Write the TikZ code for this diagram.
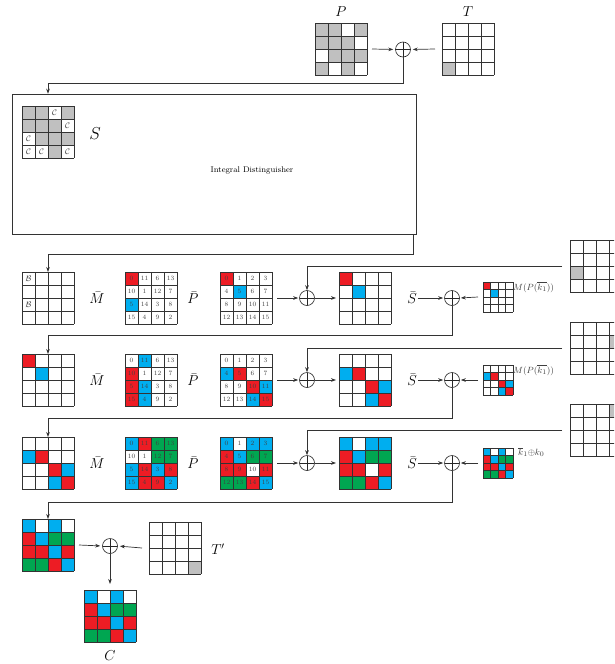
\documentclass[tikz,border=0pt]{standalone}
\usetikzlibrary{arrows.meta}
\definecolor{cr}{HTML}{ED1C24}
\definecolor{cb}{HTML}{00AEEF}
\definecolor{cg}{HTML}{00A651}
\definecolor{ck}{HTML}{C0C0C0}
\colorlet{cw}{white}
\tikzset{
  gridbox/.style={inner sep=0pt, outer sep=0pt, draw=none},
  gridline/.style={draw=black!80, line width=0.7pt},
  numtxt/.style={inner sep=0pt, font=\fontsize{6.5}{7}\selectfont, text=black!75},
  caltxt/.style={inner sep=0pt, font=\fontsize{8}{9}\selectfont, text=black!80},
  lbl/.style={inner sep=1pt, font=\fontsize{14}{16}\selectfont},
  smlbl/.style={inner sep=0pt, font=\fontsize{9.5}{10}\selectfont, text=black!75},
  xorn/.style={circle, draw=black!85, line width=0.6pt, minimum size=15pt, inner sep=0pt,
    path picture={\draw[line width=0.6pt,black!85] (path picture bounding box.north) -- (path picture bounding box.south)
      (path picture bounding box.west) -- (path picture bounding box.east);}},
  arr/.style={-{Stealth[length=5pt,width=3.6pt]}, line width=0.7pt, draw=black!80},
}
% name, x left, y top, cell, colours
\newcommand\cgrid[5]{%
  \node[gridbox, minimum size={4*#4}] (#1) at ({#2+2*#4},{#3+2*#4}) {};
  \foreach \cc [count=\ii from 0] in {#5} {
    \pgfmathtruncatemacro\gr{\ii/4}
    \pgfmathtruncatemacro\gc{mod(\ii,4)}
    \fill[\cc] ({#2+\gc*#4},{#3+\gr*#4}) rectangle ++(#4,#4);
  }
  \foreach \kk in {0,...,4} {
    \draw[gridline] ({#2+\kk*#4},#3) -- ++(0,{4*#4});
    \draw[gridline] (#2,{#3+\kk*#4}) -- ++({4*#4},0);
  }
}
% name, x left, y top, colour/number list (cell 13)
\newcommand\ntable[4]{%
  \node[gridbox, minimum size=52] (#1) at ({#2+26},{#3+26}) {};
  \foreach \cc/\nn [count=\ii from 0] in {#4} {
    \pgfmathtruncatemacro\gr{\ii/4}
    \pgfmathtruncatemacro\gc{mod(\ii,4)}
    \fill[\cc] ({#2+\gc*13},{#3+\gr*13}) rectangle ++(13,13);
    \node[numtxt] at ({#2+\gc*13+6.5},{#3+\gr*13+6.5}) {\nn};
  }
  \foreach \kk in {0,...,4} {
    \draw[gridline] ({#2+\kk*13},#3) -- ++(0,52);
    \draw[gridline] (#2,{#3+\kk*13}) -- ++(52,0);
  }
}
\begin{document}
\begin{tikzpicture}[x=1pt,y=-1pt]
\useasboundingbox (0,0) rectangle (614,664);
\fill[white] (0,0) rectangle (614,664);
\clip (0,0) rectangle (614,664);

% ---------- top ----------
\cgrid{P}{315}{23}{13}{ck,ck,cw,ck, ck,ck,ck,cw, cw,ck,ck,ck, ck,cw,ck,cw}
\cgrid{T}{442}{23}{13}{cw,cw,cw,cw, cw,cw,cw,cw, cw,cw,cw,cw, ck,cw,cw,cw}
\node[lbl] (Plbl) at (341,12) {$P$};
\node[lbl] (Tlbl) at (468,12) {$T$};
\node[xorn] (x0) at (403,49.5) {};
\draw[arr, shorten >=2pt] ([xshift=5]P.east) -- (x0.west);
\draw[arr, shorten >=2pt] ([xshift=-7]T.west) -- (x0.east);

% ---------- S box ----------
\node[draw=black!80, line width=0.6pt, minimum width=404, minimum height=140, inner sep=0pt] (Sbox) at (214,164) {};
\coordinate (d0) at (48,83);
\draw[arr] (x0.south) |- (d0) -- (Sbox.north -| d0);
\cgrid{Sg}{22}{106}{13}{ck,ck,cw,ck, ck,ck,ck,cw, cw,ck,ck,ck, cw,cw,ck,cw}
\foreach \px/\py in {54.5/112.5, 67.5/125.5, 28.5/138.5, 28.5/151.5, 41.5/151.5, 67.5/151.5}
  \node[caltxt] at (\px,\py) {$\mathcal{C}$};
\node[lbl, font=\fontsize{16}{18}\selectfont] (Slbl) at (95,134) {$S$};
\node[inner sep=0pt, font=\fontsize{8.2}{9}\selectfont] (IDlbl) at (252,170) {Integral Distinguisher};

\coordinate (d00) at (48,254);
\draw[arr] ([xshift=-3]Sbox.south east) |- (d00) -- (48,272);

% ---------- row 1 ----------
\cgrid{A1}{22}{272}{13}{cw,cw,cw,cw, cw,cw,cw,cw, cw,cw,cw,cw, cw,cw,cw,cw}
\node[caltxt] at (28.5,278.5) {$\mathcal{B}$};
\node[caltxt] at (28.5,304.5) {$\mathcal{B}$};
\node[lbl] (Mb1) at (97,298) {$\bar{M}$};
\ntable{M1}{125}{272}{cr/0,cw/11,cw/6,cw/13, cw/10,cw/1,cw/12,cw/7, cb/5,cw/14,cw/3,cw/8, cw/15,cw/4,cw/9,cw/2}
\node[lbl] (Pb1) at (193,298) {$\bar{P}$};
\ntable{P1}{220}{272}{cr/0,cw/1,cw/2,cw/3, cw/4,cb/5,cw/6,cw/7, cw/8,cw/9,cw/10,cw/11, cw/12,cw/13,cw/14,cw/15}
\node[xorn] (x1a) at (307,298) {};
\cgrid{S1}{339}{272}{13}{cr,cw,cw,cw, cw,cb,cw,cw, cw,cw,cw,cw, cw,cw,cw,cw}
\node[lbl] (Sb1) at (412,298) {$\bar{S}$};
\node[xorn] (x1b) at (452,298) {};
\cgrid{K1}{483}{282}{7.5}{cr,cw,cw,cw, cw,cb,cw,cw, cw,cw,cw,cw, cw,cw,cw,cw}
\node[smlbl, anchor=west] (K1lbl) at (513,287) {$M(P(\overline{k_1}))$};
\cgrid{R1}{570}{240}{13}{cw,cw,cw,cw, cw,cw,cw,cw, ck,cw,cw,cw, cw,cw,cw,cw}
\draw[arr, shorten >=1pt] ([xshift=5]P1.east) -- (x1a.west);
\draw[arr] (x1a.east) -- ([xshift=-3]S1.west);
\draw[arr, shorten >=1pt] (Sb1.east) -- (x1b.west);
\draw[arr, shorten >=1pt] ([xshift=-5]K1.west) -- (x1b.east);
\draw[arr] ([xshift=-8]R1.west) -| (x1a.north);
\coordinate (d1) at (48,335);
\draw[arr] (x1b.south) |- (d1) -- (48,354);

% ---------- row 2 ----------
\cgrid{A2}{22}{354}{13}{cr,cw,cw,cw, cw,cb,cw,cw, cw,cw,cw,cw, cw,cw,cw,cw}
\node[lbl] (Mb2) at (97,380) {$\bar{M}$};
\ntable{M2}{125}{354}{cw/0,cb/11,cw/6,cw/13, cr/10,cw/1,cw/12,cw/7, cr/5,cb/14,cw/3,cw/8, cr/15,cb/4,cw/9,cw/2}
\node[lbl] (Pb2) at (193,380) {$\bar{P}$};
\ntable{P2}{220}{354}{cw/0,cw/1,cw/2,cw/3, cb/4,cr/5,cw/6,cw/7, cw/8,cw/9,cr/10,cb/11, cw/12,cw/13,cb/14,cr/15}
\node[xorn] (x2a) at (307,380) {};
\cgrid{S2}{339}{354}{13}{cw,cw,cw,cw, cb,cr,cw,cw, cw,cw,cr,cb, cw,cw,cb,cr}
\node[lbl] (Sb2) at (412,380) {$\bar{S}$};
\node[xorn] (x2b) at (452,380) {};
\cgrid{K2}{483}{365}{7.5}{cw,cw,cw,cw, cb,cr,cw,cw, cw,cw,cr,cb, cw,cw,cb,cr}
\node[smlbl, anchor=west] (K2lbl) at (513,370) {$M(P(\overline{k_1}))$};
\cgrid{R2}{570}{322}{13}{cw,cw,cw,cw, cw,cw,cw,ck, cw,cw,cw,cw, cw,cw,cw,cw}
\draw[arr, shorten >=1pt] ([xshift=5]P2.east) -- (x2a.west);
\draw[arr] (x2a.east) -- ([xshift=-3]S2.west);
\draw[arr, shorten >=1pt] (Sb2.east) -- (x2b.west);
\draw[arr, shorten >=1pt] ([xshift=-5]K2.west) -- (x2b.east);
\draw[arr] ([xshift=-8]R2.west) -| (x2a.north);
\coordinate (d2) at (48,418);
\draw[arr] (x2b.south) |- (d2) -- (48,437);

% ---------- row 3 ----------
\cgrid{A3}{22}{437}{13}{cw,cw,cw,cw, cb,cr,cw,cw, cw,cw,cr,cb, cw,cw,cb,cr}
\node[lbl] (Mb3) at (97,463) {$\bar{M}$};
\ntable{M3}{125}{437}{cb/0,cr/11,cg/6,cg/13, cw/10,cw/1,cg/12,cg/7, cb/5,cr/14,cb/3,cr/8, cb/15,cr/4,cr/9,cb/2}
\node[lbl] (Pb3) at (193,463) {$\bar{P}$};
\ntable{P3}{220}{437}{cb/0,cw/1,cb/2,cb/3, cr/4,cb/5,cg/6,cg/7, cr/8,cr/9,cw/10,cr/11, cg/12,cg/13,cr/14,cb/15}
\node[xorn] (x3a) at (307,463) {};
\cgrid{S3}{339}{437}{13}{cb,cw,cb,cb, cr,cb,cg,cg, cr,cr,cw,cr, cg,cg,cr,cb}
\node[lbl] (Sb3) at (412,463) {$\bar{S}$};
\node[xorn] (x3b) at (452,463) {};
\cgrid{K3}{483}{448}{7.5}{cb,cw,cb,cw, cr,cb,cg,cg, cr,cr,cb,cr, cg,cg,cr,cb}
\node[smlbl, anchor=west] (K3lbl) at (518,452) {$\overline{k}_1{\oplus}k_0$};
\cgrid{R3}{570}{404}{13}{cw,cw,cw,ck, cw,cw,cw,cw, cw,cw,cw,cw, cw,cw,cw,cw}
\draw[arr, shorten >=1pt] ([xshift=5]P3.east) -- (x3a.west);
\draw[arr] (x3a.east) -- ([xshift=-3]S3.west);
\draw[arr, shorten >=1pt] (Sb3.east) -- (x3b.west);
\draw[arr, shorten >=1pt] ([xshift=-5]K3.west) -- (x3b.east);
\draw[arr] ([xshift=-8]R3.west) -| (x3a.north);
\coordinate (d3) at (48,502);
\draw[arr] (x3b.south) |- (d3) -- (48,519);

% ---------- bottom ----------
\cgrid{F}{22}{519}{13}{cb,cw,cb,cw, cr,cb,cg,cg, cr,cr,cb,cr, cg,cg,cr,cb}
\node[xorn] (x4) at (110,546) {};
\cgrid{Tp}{149}{522}{13}{cw,cw,cw,cw, cw,cw,cw,cw, cw,cw,cw,cw, cw,cw,cw,ck}
\node[lbl] (Tplbl) at (218,549) {$T'$};
\cgrid{C}{84}{590}{13}{cb,cw,cb,cw, cr,cb,cg,cg, cr,cr,cb,cr, cg,cg,cr,cb}
\node[lbl] (Clbl) at (110,656) {$C$};
\draw[arr, shorten >=2pt] ([xshift=5]F.east) -- (x4.west);
\draw[arr, shorten >=2pt] ([xshift=-7]Tp.west) -- (x4.east);
\draw[arr, shorten >=6pt] (x4.south) -- (C.north);
\end{tikzpicture}
\end{document}
